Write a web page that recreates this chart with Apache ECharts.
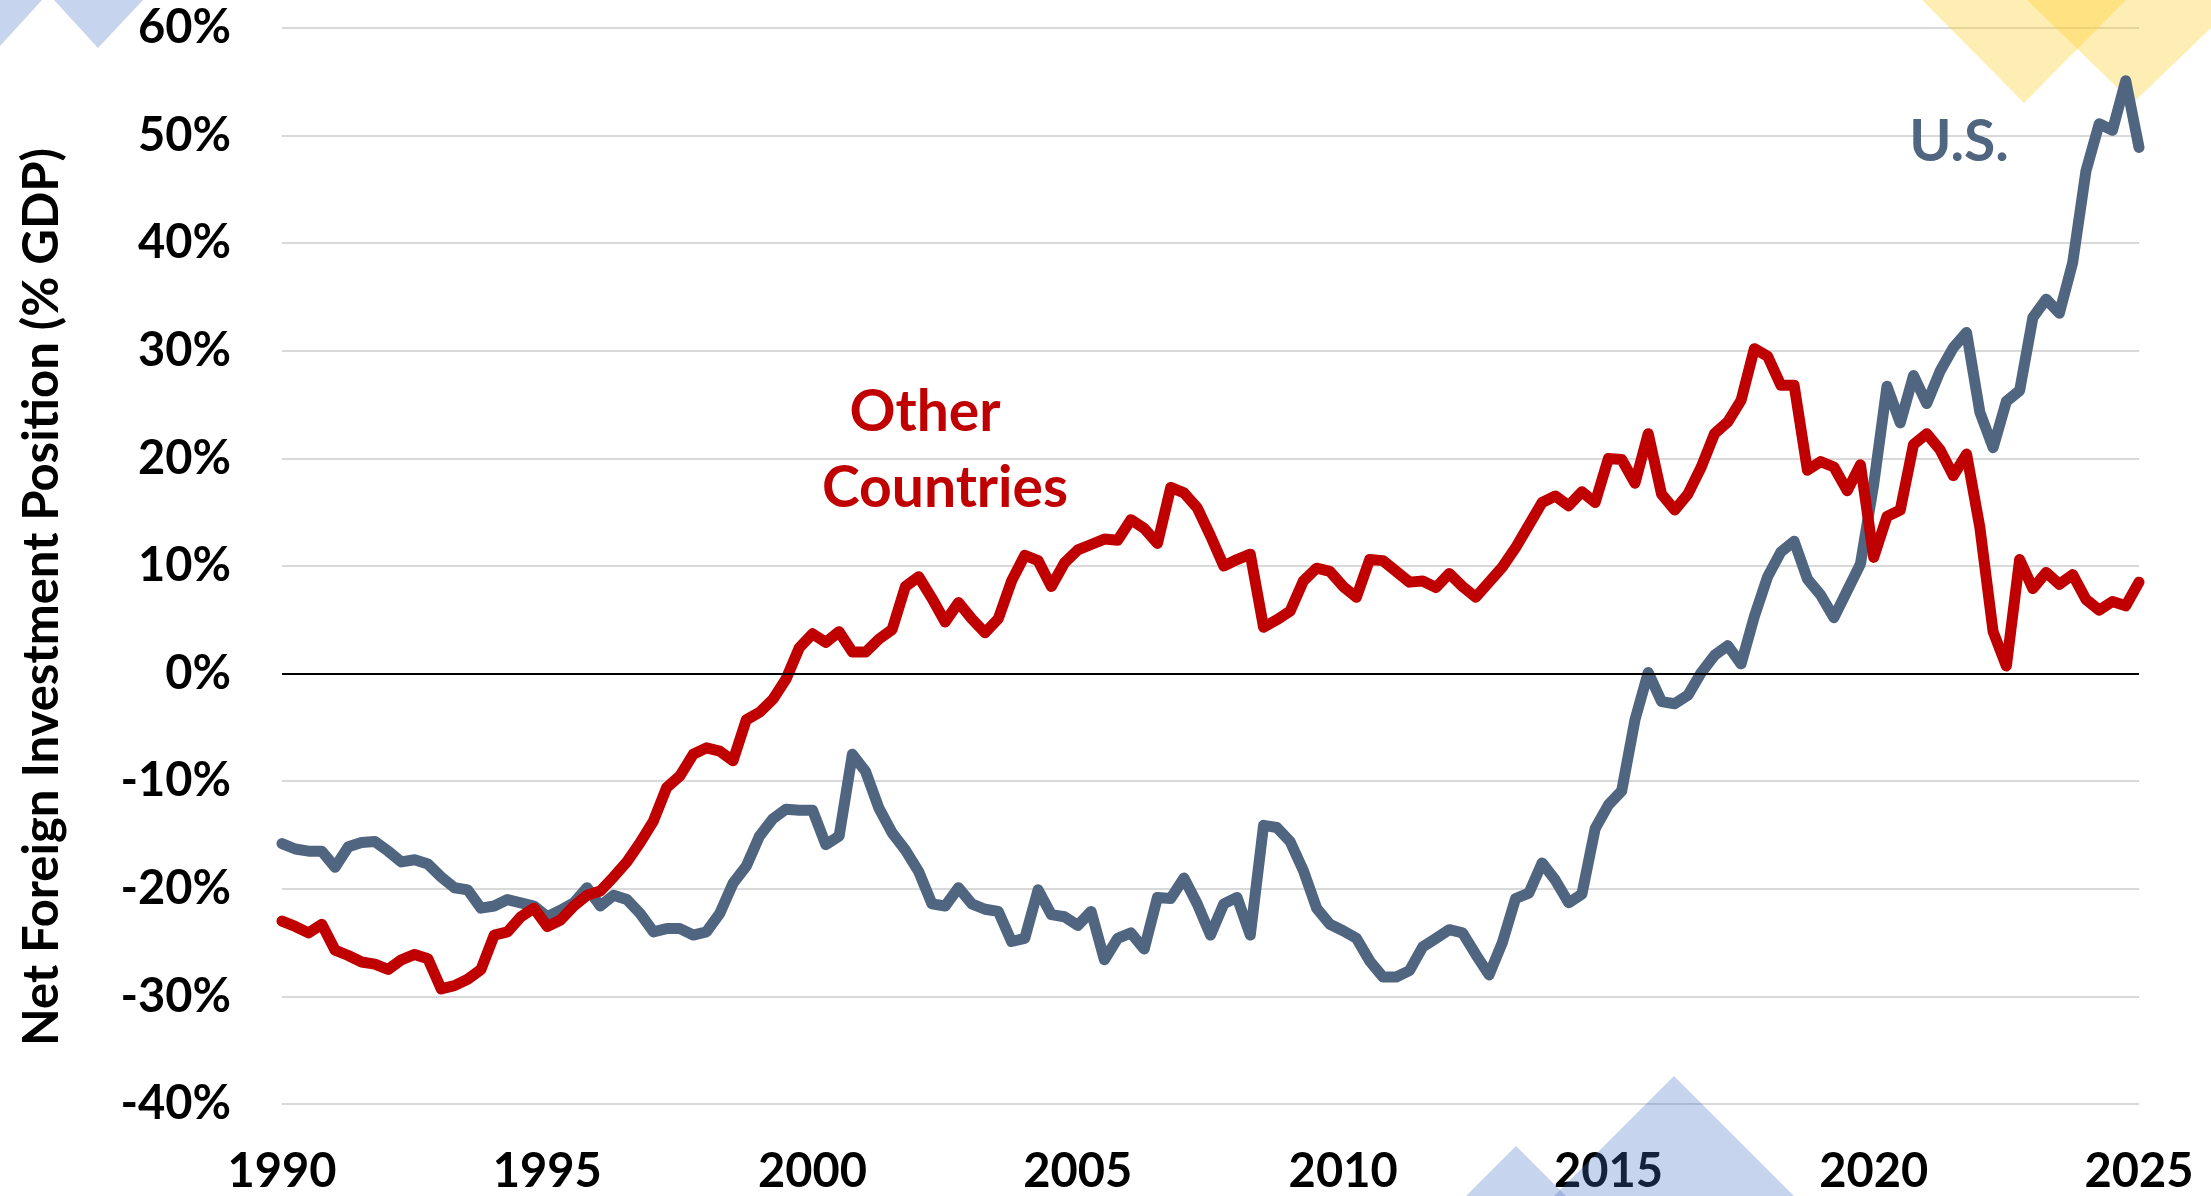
<!DOCTYPE html>
<html>
<head>
<meta charset="utf-8">
<title>Net Foreign Investment Position</title>
<script src="https://cdn.jsdelivr.net/npm/echarts@6/dist/echarts.min.js"></script>
<style>
  html, body { margin: 0; padding: 0; background: #fff; }
  #chart { width: 2211px; height: 1196px; }
</style>
</head>
<body>
<div id="chart"></div>
<script>
// quarterly, 1990Q1 .. 2025Q1, % of GDP
var usNIIP = [
  -15.8, -16.3, -16.5, -16.5, -18.0, -16.1, -15.7, -15.6, -16.5, -17.5,
  -17.3, -17.7, -18.9, -19.9, -20.1, -21.8, -21.6, -21.0, -21.3, -21.6,
  -22.6, -22.0, -21.3, -19.9, -21.6, -20.6, -21.0, -22.3, -24.0, -23.7,
  -23.7, -24.3, -24.0, -22.3, -19.5, -17.9, -15.1, -13.5, -12.6, -12.7,
  -12.7, -15.9, -15.1, -7.5, -9.1, -12.5, -14.8, -16.4, -18.4, -21.4,
  -21.6, -19.9, -21.4, -21.9, -22.1, -24.9, -24.6, -20.1, -22.4, -22.6,
  -23.4, -22.1, -26.6, -24.6, -24.1, -25.6, -20.8, -20.9, -19.0, -21.4,
  -24.3, -21.4, -20.8, -24.3, -14.1, -14.3, -15.6, -18.3, -21.8, -23.3,
  -23.9, -24.6, -26.7, -28.2, -28.2, -27.6, -25.4, -24.6, -23.8, -24.1,
  -26.1, -28.0, -25.0, -20.9, -20.4, -17.6, -19.2, -21.3, -20.5, -14.4,
  -12.2, -10.9, -4.3, 0.1, -2.6, -2.8, -2.0, 0.1, 1.7, 2.6,
  0.9, 5.3, 9.0, 11.3, 12.3, 8.8, 7.3, 5.2, 7.7, 10.2,
  17.6, 26.7, 23.3, 27.7, 25.1, 28.1, 30.3, 31.7, 24.3, 21.0,
  25.3, 26.3, 33.1, 34.8, 33.5, 38.2, 46.7, 51.1, 50.5, 55.1,
  48.9
];

var otherNIIP = [
  -23.0, -23.5, -24.1, -23.3, -25.7, -26.2, -26.8, -27.0, -27.5, -26.6,
  -26.1, -26.5, -29.3, -29.0, -28.4, -27.5, -24.3, -24.0, -22.6, -21.8,
  -23.5, -22.9, -21.6, -20.6, -20.2, -18.9, -17.5, -15.7, -13.7, -10.6,
  -9.5, -7.5, -6.9, -7.2, -8.1, -4.3, -3.6, -2.4, -0.5, 2.4,
  3.7, 2.9, 3.9, 2.0, 2.0, 3.2, 4.1, 8.1, 9.0, 7.0,
  4.8, 6.6, 5.1, 3.8, 5.1, 8.6, 11.0, 10.5, 8.1, 10.3,
  11.5, 12.0, 12.5, 12.4, 14.3, 13.5, 12.1, 17.3, 16.8, 15.4,
  12.8, 10.0, 10.6, 11.1, 4.3, 5.0, 5.8, 8.6, 9.8, 9.5,
  8.1, 7.1, 10.6, 10.5, 9.5, 8.5, 8.6, 8.0, 9.3, 8.1,
  7.1, 8.5, 9.9, 11.7, 13.8, 15.9, 16.5, 15.6, 16.9, 15.9,
  20.0, 19.9, 17.7, 22.3, 16.7, 15.2, 16.7, 19.2, 22.3, 23.4,
  25.4, 30.2, 29.5, 26.8, 26.8, 18.9, 19.7, 19.2, 17.0, 19.4,
  10.8, 14.6, 15.2, 21.3, 22.3, 20.8, 18.4, 20.4, 13.6, 3.9,
  0.7, 10.6, 7.9, 9.4, 8.3, 9.2, 6.9, 5.9, 6.7, 6.3,
  8.5
];

// x position of each quarter (year + fraction)
var quarterYears = usNIIP.map(function (v, i) { return 1990 + i / 4; });

var yearTicks = [1990, 1995, 2000, 2005, 2010, 2015, 2020, 2025];

var US_COLOR = '#506580';
var OTHER_COLOR = '#C00000';
var FONT = 'Lato, "Open Sans", sans-serif';

function pairs(values) {
  return values.map(function (v, i) { return [quarterYears[i], v]; });
}

var chartDom = document.getElementById('chart');
var myChart = echarts.init(chartDom, null, { renderer: 'canvas' });

var option = {
  backgroundColor: '#ffffff',
  animation: false,
  grid: {
    left: 282,
    right: 72,
    top: 28,
    bottom: 92,
    containLabel: false,
    outerBoundsMode: 'none'
  },
  xAxis: {
    type: 'value',
    min: yearTicks[0],
    max: yearTicks[yearTicks.length - 1],
    interval: 5,
    axisLine: { show: false, onZero: false },
    axisTick: { show: false },
    splitLine: { show: false },
    axisLabel: {
      margin: 44,
      color: '#000',
      fontFamily: FONT,
      fontWeight: 'bold',
      fontSize: 47,
      formatter: function (v) { return String(v); }
    }
  },
  yAxis: {
    type: 'value',
    min: -40,
    max: 60,
    interval: 10,
    axisLine: { show: false },
    axisTick: { show: false },
    splitLine: {
      show: true,
      lineStyle: { color: '#d9d9d9', width: 2 }
    },
    axisLabel: {
      margin: 51,
      color: '#000',
      fontFamily: FONT,
      fontWeight: 'bold',
      fontSize: 47,
      formatter: '{value}%'
    }
  },
  graphic: [
    // decorative triangles
    { type: 'polygon', z: 1, silent: true,
      shape: { points: [[54, 0], [143, 0], [98, 48]] },
      style: { fill: 'rgba(68,114,196,0.3)' } },
    { type: 'polygon', z: 1, silent: true,
      shape: { points: [[0, 0], [42, 0], [0, 46]] },
      style: { fill: 'rgba(68,114,196,0.3)' } },
    { type: 'polygon', z: 1, silent: true,
      shape: { points: [[1922, 0], [2126, 0], [2024, 103]] },
      style: { fill: 'rgba(255,205,40,0.35)' } },
    { type: 'polygon', z: 1, silent: true,
      shape: { points: [[2027, 0], [2240, 0], [2133, 103]] },
      style: { fill: 'rgba(255,205,40,0.35)' } },
    { type: 'polygon', z: 1, silent: true,
      shape: { points: [[1554, 1196], [1674, 1076], [1794, 1196]] },
      style: { fill: 'rgba(68,114,196,0.3)' } },
    { type: 'polygon', z: 1, silent: true,
      shape: { points: [[1466, 1196], [1516, 1146], [1566, 1196]] },
      style: { fill: 'rgba(68,114,196,0.3)' } },
    // y axis title
    { type: 'text', z: 10, x: 42, y: 597, rotation: Math.PI / 2,
      style: { text: 'Net Foreign Investment Position (% GDP)', fill: '#000',
               font: 'bold 49px ' + FONT,
               textAlign: 'center', textVerticalAlign: 'middle' } },
    // series labels
    { type: 'text', z: 10, x: 925, y: 413,
      style: { text: 'Other', fill: OTHER_COLOR, font: 'bold 57px ' + FONT,
               textAlign: 'center', textVerticalAlign: 'middle' } },
    { type: 'text', z: 10, x: 945, y: 489,
      style: { text: 'Countries', fill: OTHER_COLOR, font: 'bold 57px ' + FONT,
               textAlign: 'center', textVerticalAlign: 'middle' } },
    { type: 'text', z: 10, x: 1959, y: 143,
      style: { text: 'U.S.', fill: US_COLOR, font: 'bold 57px ' + FONT,
               textAlign: 'center', textVerticalAlign: 'middle' } }
  ],
  series: [
    {
      name: 'U.S.',
      type: 'line',
      data: pairs(usNIIP),
      showSymbol: false,
      z: 3,
      lineStyle: { color: US_COLOR, width: 11, cap: 'round', join: 'round' },
      markLine: {
        silent: true,
        symbol: ['none', 'none'],
        label: { show: false },
        lineStyle: { color: '#000', width: 2, type: 'solid' },
        data: [{ yAxis: 0 }]
      }
    },
    {
      name: 'Other Countries',
      type: 'line',
      data: pairs(otherNIIP),
      showSymbol: false,
      z: 4,
      lineStyle: { color: OTHER_COLOR, width: 11, cap: 'round', join: 'round' }
    }
  ]
};

option && myChart.setOption(option);
</script>
</body>
</html>
